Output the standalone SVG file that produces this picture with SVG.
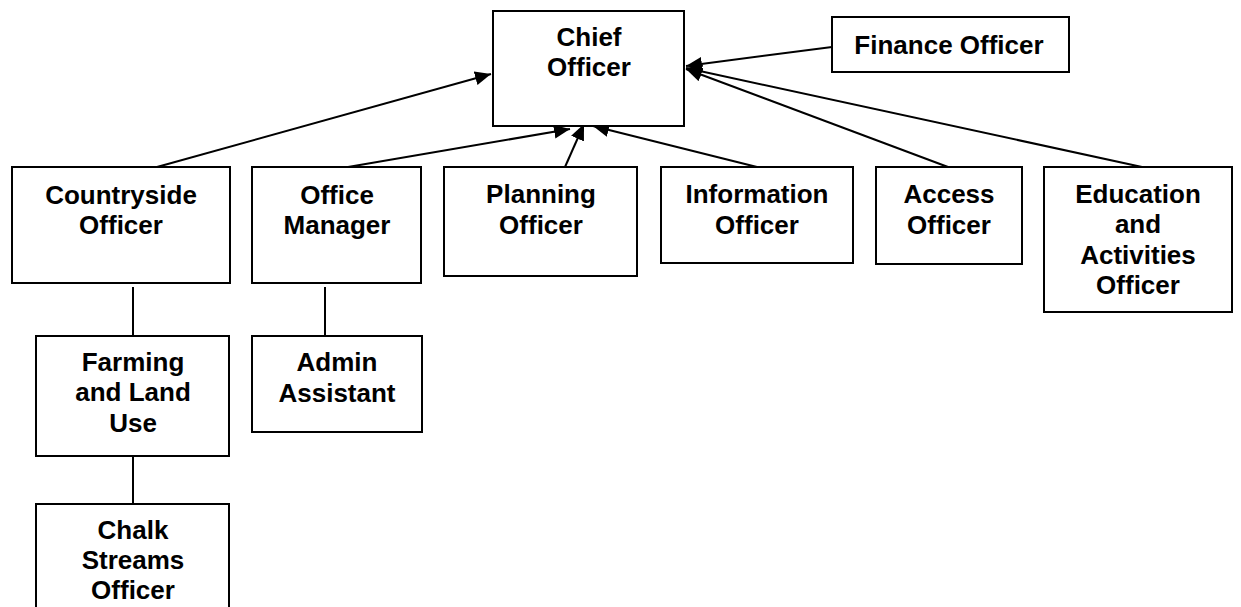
<svg xmlns="http://www.w3.org/2000/svg" width="1241" height="607" viewBox="0 0 1241 607">
<style>
.box{fill:#fff;stroke:#000;stroke-width:2}
.lbl{font-family:"Liberation Sans",Arial,sans-serif;font-weight:bold;font-size:26px;fill:#000;text-anchor:middle}
.con{stroke:#000;stroke-width:2;fill:none}
.arr{marker-end:url(#ah)}
</style>
<defs>
<marker id="ah" markerUnits="userSpaceOnUse" markerWidth="18" markerHeight="14" viewBox="0 0 18 14" refX="16" refY="7" orient="auto">
<path d="M0,0 L16,7 L0,14 Z" fill="#000"/>
</marker>
</defs>
<rect x="0" y="0" width="1241" height="607" fill="#fff"/>
<g id="connectors">
<line class="con arr" x1="157" y1="167" x2="491" y2="74"/>
<line class="con arr" x1="348" y1="167" x2="570" y2="129"/>
<line class="con arr" x1="565" y1="167" x2="584" y2="124"/>
<line class="con arr" x1="757" y1="167" x2="593" y2="126"/>
<line class="con arr" x1="832" y1="47" x2="686" y2="66"/>
<line class="con arr" x1="948" y1="167" x2="686" y2="69"/>
<line class="con arr" x1="1142" y1="167" x2="686" y2="68"/>
<line class="con" x1="133" y1="287" x2="133" y2="336"/>
<line class="con" x1="133" y1="456" x2="133" y2="504"/>
<line class="con" x1="325" y1="287" x2="325" y2="336"/>
</g>
<g id="chief">
<rect class="box" x="493" y="11" width="191" height="115"/>
<text class="lbl" x="589" y="46">Chief</text>
<text class="lbl" x="589" y="76">Officer</text>
</g>
<g id="finance">
<rect class="box" x="832" y="17" width="237" height="55"/>
<text class="lbl" x="949" y="54">Finance Officer</text>
</g>
<g id="countryside">
<rect class="box" x="12" y="167" width="218" height="116"/>
<text class="lbl" x="121" y="204">Countryside</text>
<text class="lbl" x="121" y="234">Officer</text>
</g>
<g id="office-manager">
<rect class="box" x="252" y="167" width="169" height="116"/>
<text class="lbl" x="337" y="204">Office</text>
<text class="lbl" x="337" y="234">Manager</text>
</g>
<g id="planning">
<rect class="box" x="444" y="167" width="193" height="109"/>
<text class="lbl" x="541" y="203">Planning</text>
<text class="lbl" x="541" y="234">Officer</text>
</g>
<g id="information">
<rect class="box" x="661" y="167" width="192" height="96"/>
<text class="lbl" x="757" y="203">Information</text>
<text class="lbl" x="757" y="234">Officer</text>
</g>
<g id="access">
<rect class="box" x="876" y="167" width="146" height="97"/>
<text class="lbl" x="949" y="203">Access</text>
<text class="lbl" x="949" y="234">Officer</text>
</g>
<g id="education">
<rect class="box" x="1044" y="167" width="188" height="145"/>
<text class="lbl" x="1138" y="203">Education</text>
<text class="lbl" x="1138" y="233">and</text>
<text class="lbl" x="1138" y="264">Activities</text>
<text class="lbl" x="1138" y="294">Officer</text>
</g>
<g id="farming">
<rect class="box" x="36" y="336" width="193" height="120"/>
<text class="lbl" x="133" y="371">Farming</text>
<text class="lbl" x="133" y="401">and Land</text>
<text class="lbl" x="133" y="432">Use</text>
</g>
<g id="admin">
<rect class="box" x="252" y="336" width="170" height="96"/>
<text class="lbl" x="337" y="371">Admin</text>
<text class="lbl" x="337" y="402">Assistant</text>
</g>
<g id="chalk">
<rect class="box" x="36" y="504" width="193" height="120"/>
<text class="lbl" x="133" y="539">Chalk</text>
<text class="lbl" x="133" y="569">Streams</text>
<text class="lbl" x="133" y="599">Officer</text>
</g>
</svg>
